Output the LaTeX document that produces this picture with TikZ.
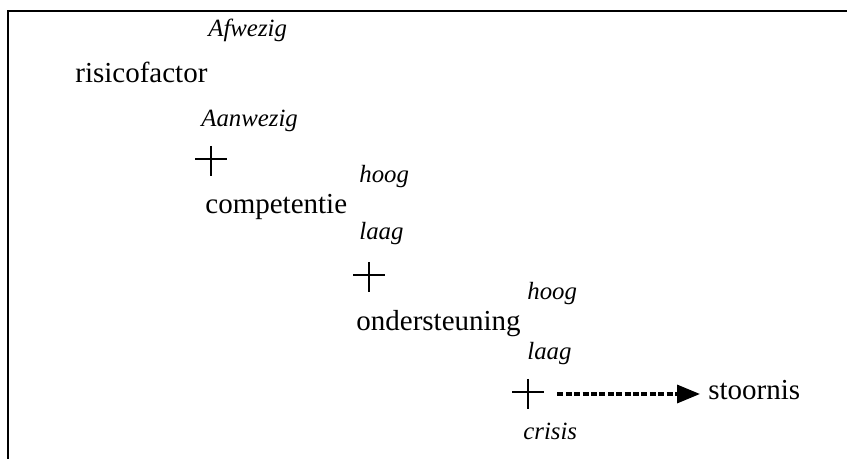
\documentclass[tikz,border=0pt]{standalone}
\usepackage{fontspec}
\setmainfont{Liberation Serif}
\usetikzlibrary{arrows.meta,positioning,calc}

\begin{document}
\begin{tikzpicture}[x=0.5pt,y=-0.5pt,
  factorlbl/.style={font=\fontsize{14.5}{17}\selectfont,inner sep=0pt,anchor=base west},
  valuelbl/.style={font=\fontsize{12.4}{15}\selectfont\itshape,inner sep=0pt,anchor=base west},
  plusmark/.style={minimum width=16pt,minimum height=15pt,inner sep=0pt,
    path picture={\draw[line width=1.2pt]
      (path picture bounding box.north) -- (path picture bounding box.south)
      ($(path picture bounding box.west)+(0,1pt)$) -- ($(path picture bounding box.east)+(0,1pt)$);}},
  dasharrow/.style={line width=1.7pt,dash pattern=on 3pt off 1.2pt,
    -{Triangle[length=11.5pt,width=9pt]},shorten <=6.5pt,shorten >=4pt}
]
  \useasboundingbox (0,0) rectangle (847,459);
  % frame
  \draw[line width=1.2pt] (8,459) -- (8,11) -- (847,11);
  % risicofactor
  \node[valuelbl] (afw) at (208,37) {Afwezig};
  \node[factorlbl] (risk) at (75,83) {risicofactor};
  \node[valuelbl] (aanw) at (201,127) {Aanwezig};
  \node[plusmark] (plusA) at (211,161) {};
  % competentie
  \node[valuelbl] (hoog1) at (359,183) {hoog};
  \node[factorlbl] (comp) at (205,214) {competentie};
  \node[valuelbl] (laag1) at (359,240) {laag};
  \node[plusmark] (plusB) at (369,277) {};
  % ondersteuning
  \node[valuelbl] (hoog2) at (527,300) {hoog};
  \node[factorlbl] (onder) at (356,331) {ondersteuning};
  \node[valuelbl] (laag2) at (527,360) {laag};
  \node[plusmark] (plusC) at (528,394) {};
  % uitkomst
  \node[factorlbl] (stoornis) at (708,400) {stoornis};
  \node[valuelbl] (crisis) at (523,440) {crisis};
  \draw[dasharrow] (plusC.east) -- (plusC.east -| stoornis.west);
\end{tikzpicture}
\end{document}
